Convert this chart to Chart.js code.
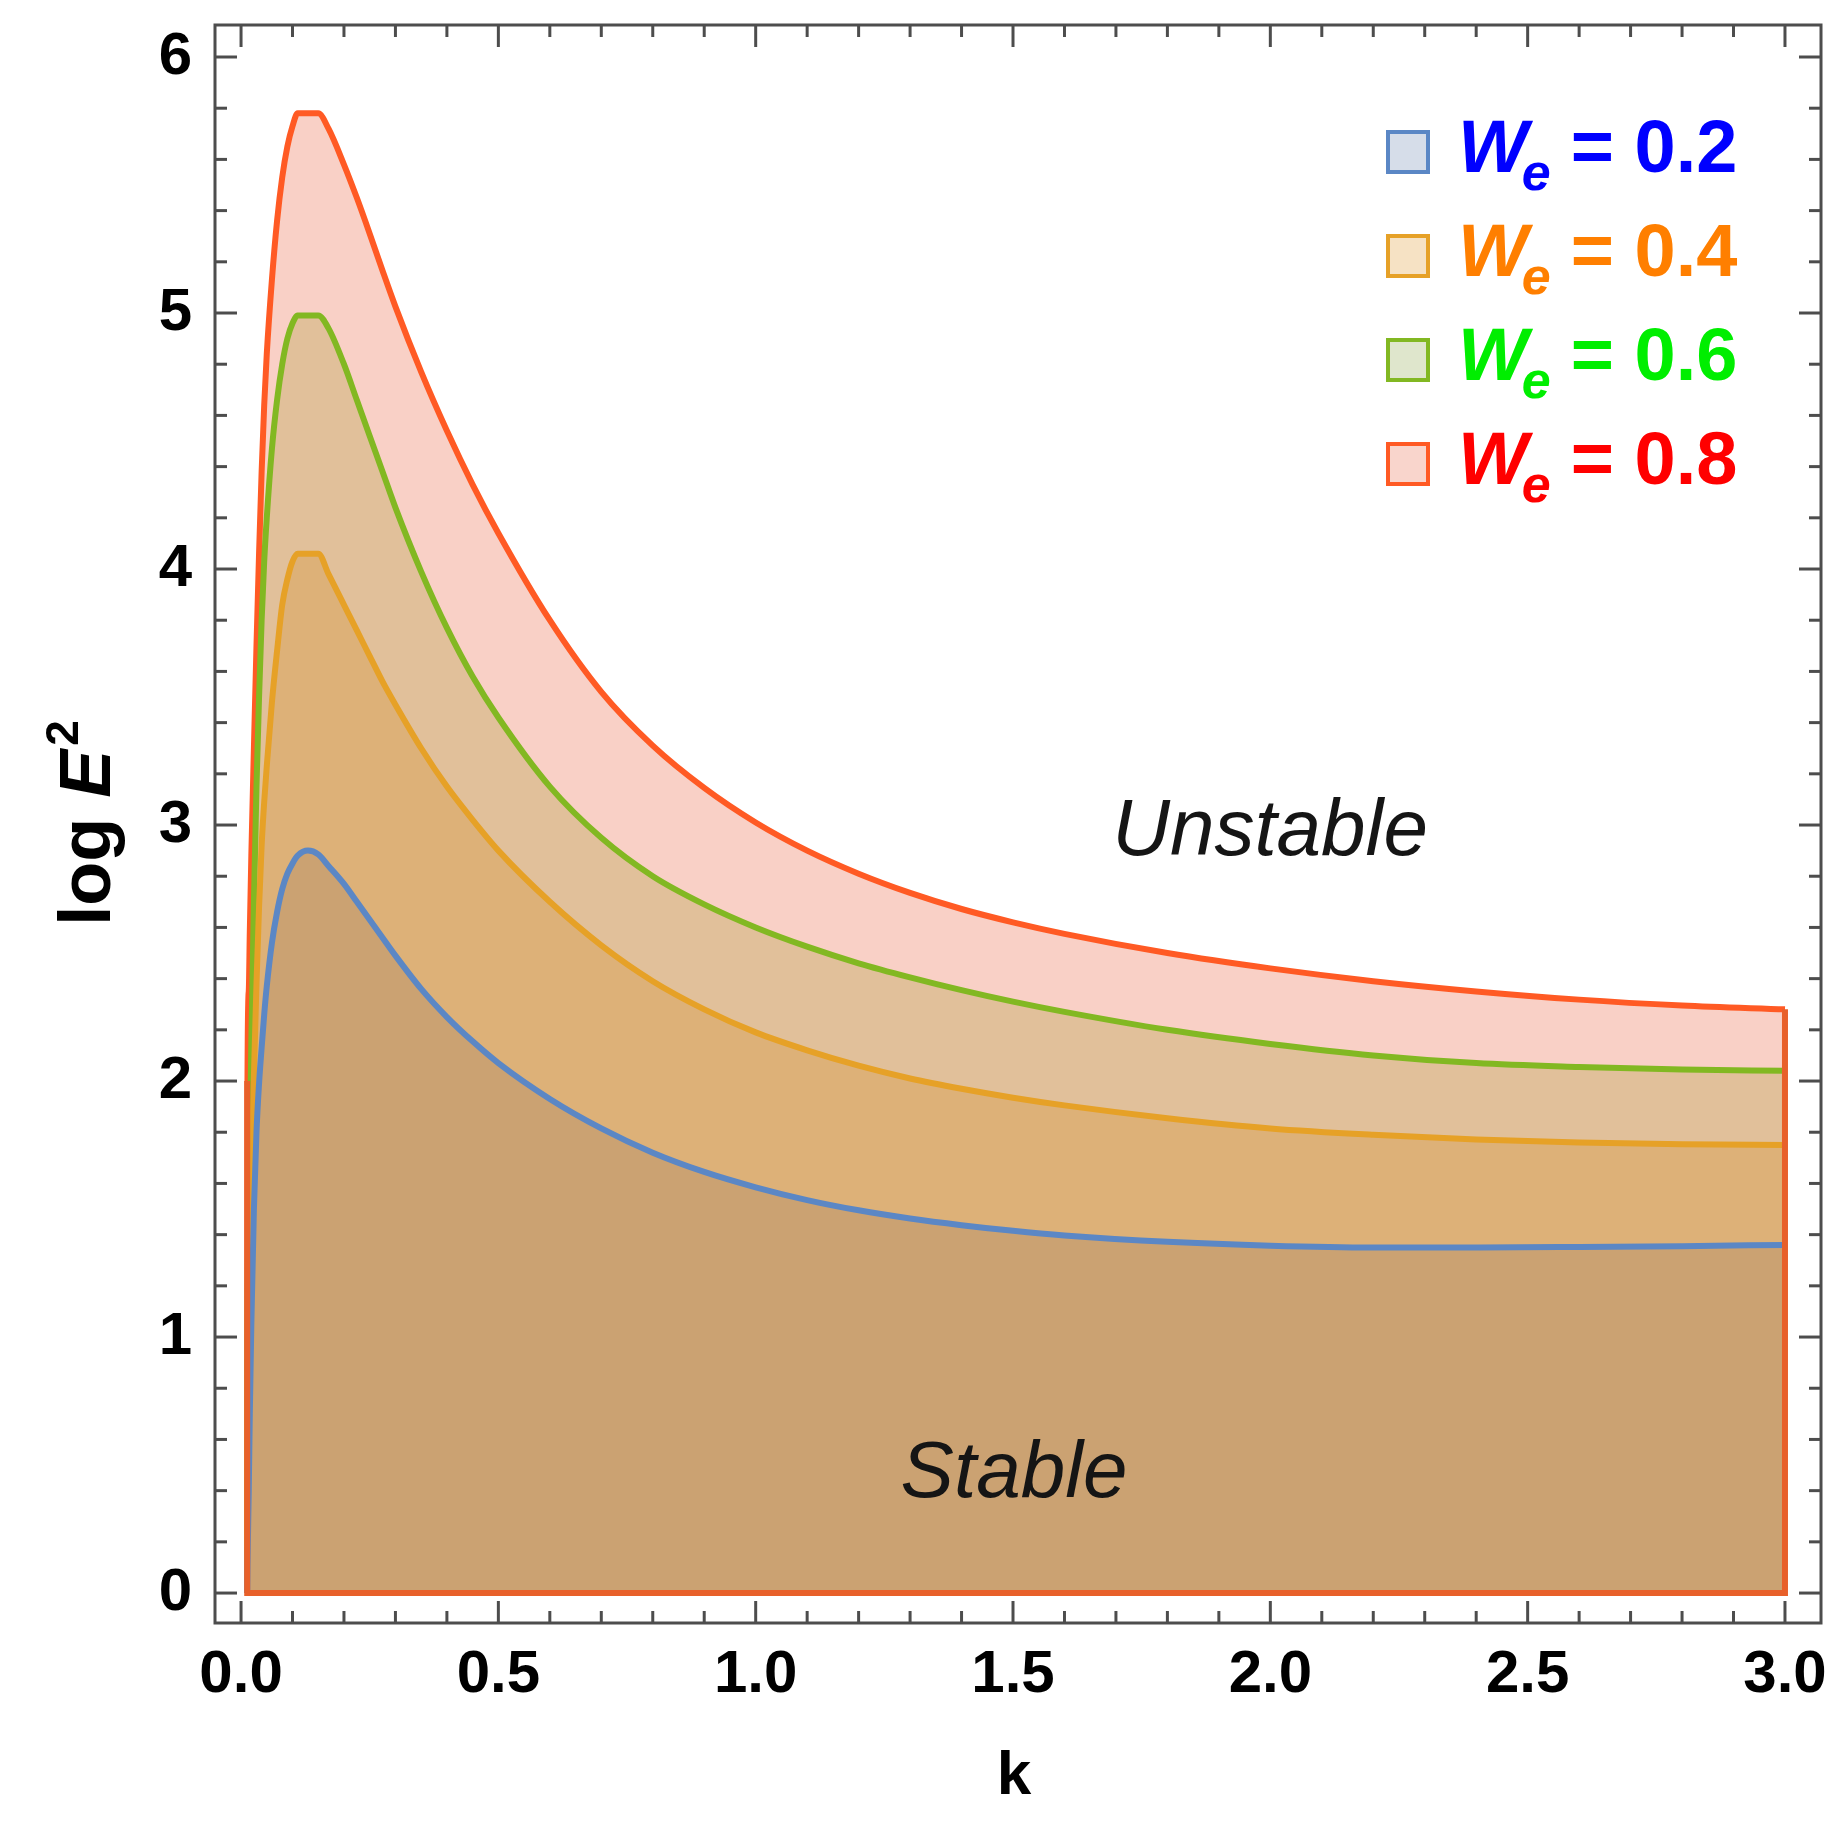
<!DOCTYPE html>
<html>
<head>
<meta charset="utf-8">
<script src="https://cdn.jsdelivr.net/npm/chart.js@4.4.1/dist/chart.umd.min.js"></script>
<style>
  html, body { margin: 0; padding: 0; background: #fff; }
  #wrap { width: 1843px; height: 1827px; position: relative; }
</style>
</head>
<body>
<div id="wrap"><canvas id="chart"></canvas></div>
<script>
// wave number k (shared by all curves)
const kValues = [0.012, 0.0125, 0.015, 0.017, 0.02, 0.025, 0.03, 0.035, 0.04, 0.045,
  0.05, 0.06, 0.07, 0.08, 0.09, 0.10, 0.11, 0.13, 0.15, 0.17,
  0.20, 0.225, 0.25, 0.275, 0.30, 0.35, 0.40, 0.45, 0.50, 0.60,
  0.70, 0.80, 0.90, 1.0, 1.1, 1.2, 1.3, 1.4, 1.5, 1.6,
  1.8, 2.0, 2.2, 2.4, 2.6, 2.8, 3.0];

// log E^2 for each We
const logE2_02 = [0, 0.1, 0.4, 0.7, 1.05, 1.5, 1.8, 1.99, 2.13, 2.26,
  2.37, 2.54, 2.66, 2.75, 2.81, 2.85, 2.88, 2.90, 2.885, 2.84,
  2.77, 2.70, 2.63, 2.56, 2.49, 2.36, 2.25, 2.155, 2.07, 1.93,
  1.815, 1.72, 1.645, 1.585, 1.535, 1.495, 1.463, 1.437, 1.415, 1.397,
  1.372, 1.357, 1.35, 1.35, 1.352, 1.355, 1.36];
const logE2_04 = [0, 0.6, 1.0, 1.3, 1.62, 2.02, 2.38, 2.68, 2.92, 3.09,
  3.23, 3.48, 3.68, 3.86, 3.96, 4.03, 4.06, 4.06, 4.06, 3.98,
  3.86, 3.76, 3.66, 3.56, 3.47, 3.30, 3.15, 3.02, 2.90, 2.70,
  2.53, 2.39, 2.28, 2.19, 2.12, 2.06, 2.01, 1.97, 1.935, 1.905,
  1.855, 1.815, 1.79, 1.772, 1.76, 1.753, 1.75];
const logE2_06 = [0, 1.0, 1.45, 1.75, 2.15, 2.7, 3.15, 3.5, 3.8, 4.03,
  4.2, 4.47, 4.66, 4.80, 4.90, 4.96, 4.99, 4.99, 4.99, 4.94,
  4.80, 4.66, 4.52, 4.38, 4.24, 3.99, 3.77, 3.58, 3.42, 3.15,
  2.95, 2.80, 2.69, 2.60, 2.525, 2.46, 2.405, 2.355, 2.31, 2.27,
  2.20, 2.145, 2.10, 2.07, 2.055, 2.045, 2.04];
const logE2_08 = [0, 2.0, 2.35, 2.58, 2.88, 3.3, 3.7, 4.06, 4.38, 4.64,
  4.84, 5.13, 5.36, 5.53, 5.65, 5.73, 5.78, 5.78, 5.78, 5.72,
  5.58, 5.45, 5.31, 5.165, 5.025, 4.77, 4.54, 4.33, 4.14, 3.80,
  3.52, 3.31, 3.145, 3.01, 2.90, 2.81, 2.735, 2.672, 2.62, 2.575,
  2.50, 2.44, 2.39, 2.35, 2.318, 2.295, 2.28];

const weLabels = ['0.2', '0.4', '0.6', '0.8'];
const xTicks = [0, 0.5, 1.0, 1.5, 2.0, 2.5, 3.0];
const yTicks = [0, 1, 2, 3, 4, 5, 6];

const lineColors = ['#5b87c5', '#e6a127', '#82b822', '#ff5a24'];
const fillColors = ['#cba272', '#ddb178', '#e1c09a', '#f9d0c6'];
const textColors = ['#0000ff', '#ff7f00', '#00ee00', '#ff0000'];
const boxFills = ['#d6dde9', '#f6e2c4', '#dfe6cc', '#f9d5cc'];

const FONT = '"Liberation Sans", Arial, sans-serif';

function toPoints(ys) {
    return kValues.map((k, i) => ({ x: k, y: ys[i] }));
}

const series = [logE2_02, logE2_04, logE2_06, logE2_08];
const last = kValues.length - 1;

const datasets = series.map((ys, i) => ({
    label: 'We = ' + weLabels[i],
    data: toPoints(ys),
    showLine: true,
    borderColor: lineColors[i],
    backgroundColor: fillColors[i],
    borderWidth: 6,
    pointRadius: 0,
    fill: 'origin',
    cubicInterpolationMode: 'monotone',
    borderJoinStyle: 'round'
}));

// outer edge of the We = 0.8 region (right side, bottom and left foot)
datasets.push({
    label: 'edge',
    data: [
        { x: kValues[last], y: logE2_08[last] },
        { x: kValues[last], y: 0 },
        { x: kValues[0], y: 0 },
        { x: kValues[0], y: logE2_08[1] }
    ],
    showLine: true,
    borderColor: '#e8602a',
    borderWidth: 6,
    pointRadius: 0,
    fill: false,
    order: -1
});

// frame, inward ticks, legend and annotations
const framePlugin = {
    id: 'frame',
    afterDraw(chart) {
        const { ctx, chartArea: a, scales: { x, y } } = chart;
        const line = (x1, y1, x2, y2) => {
            ctx.beginPath();
            ctx.moveTo(x1, y1);
            ctx.lineTo(x2, y2);
            ctx.stroke();
        };
        ctx.save();
        ctx.strokeStyle = '#4d4d4d';
        ctx.lineWidth = 3;
        ctx.strokeRect(a.left, a.top, a.right - a.left, a.bottom - a.top);

        // x ticks, 4 minor ticks between majors
        xTicks.forEach((v, i) => {
            const n = i < xTicks.length - 1 ? 5 : 1;
            const step = i < xTicks.length - 1 ? (xTicks[i + 1] - v) / 5 : 0;
            for (let j = 0; j < n; j++) {
                const px = x.getPixelForValue(v + j * step);
                const len = j === 0 ? 22 : 12;
                line(px, a.bottom, px, a.bottom - len);
                line(px, a.top, px, a.top + len);
            }
        });
        yTicks.forEach((v, i) => {
            const n = i < yTicks.length - 1 ? 5 : 1;
            const step = i < yTicks.length - 1 ? (yTicks[i + 1] - v) / 5 : 0;
            for (let j = 0; j < n; j++) {
                const py = y.getPixelForValue(v + j * step);
                const len = j === 0 ? 22 : 12;
                line(a.left, py, a.left + len, py);
                line(a.right, py, a.right - len, py);
            }
        });

        // legend
        weLabels.forEach((lab, i) => {
            const base = 172 + i * 104;
            ctx.fillStyle = boxFills[i];
            ctx.strokeStyle = lineColors[i];
            ctx.lineWidth = 4;
            ctx.fillRect(1388, base - 40, 40, 40);
            ctx.strokeRect(1388, base - 40, 40, 40);

            ctx.fillStyle = textColors[i];
            ctx.textAlign = 'left';
            ctx.textBaseline = 'alphabetic';
            ctx.font = 'italic bold 74px ' + FONT;
            ctx.fillText('W', 1458, base);
            let cx = 1458 + ctx.measureText('W').width - 6;
            ctx.font = 'italic bold 52px ' + FONT;
            ctx.fillText('e', cx, base + 18);
            cx += ctx.measureText('e').width + 20;
            ctx.font = 'bold 74px ' + FONT;
            ctx.fillText('= ' + lab, cx, base);
        });

        // region labels
        ctx.fillStyle = '#151515';
        ctx.textAlign = 'center';
        ctx.font = 'italic 80px ' + FONT;
        ctx.fillText('Unstable', 1270, 855);
        ctx.fillText('Stable', 1014, 1497);

        // axis titles
        ctx.fillStyle = '#000';
        ctx.font = 'bold 62px ' + FONT;
        ctx.fillText('k', (a.left + a.right) / 2 - 4, 1794);

        ctx.translate(110, 823);
        ctx.rotate(-Math.PI / 2);
        ctx.textAlign = 'left';
        ctx.font = 'bold 72px ' + FONT;
        const w1 = ctx.measureText('log ').width;
        ctx.font = 'italic bold 72px ' + FONT;
        const w2 = ctx.measureText('E').width;
        ctx.font = 'bold 46px ' + FONT;
        const w3 = ctx.measureText('2').width;
        let sx = -(w1 + w2 + w3 + 4) / 2;
        ctx.font = 'bold 72px ' + FONT;
        ctx.fillText('log ', sx, 0);
        sx += w1;
        ctx.font = 'italic bold 72px ' + FONT;
        ctx.fillText('E', sx, 0);
        sx += w2 + 4;
        ctx.font = 'bold 46px ' + FONT;
        ctx.fillText('2', sx, -32);
        ctx.restore();
    }
};

const ctx = document.getElementById('chart').getContext('2d');
new Chart(ctx, {
    type: 'scatter',
    data: { datasets: datasets },
    options: {
        responsive: true,
        maintainAspectRatio: false,
        devicePixelRatio: 1,
        animation: false,
        layout: { padding: { top: 25, right: 22, left: 0, bottom: 0 } },
        plugins: {
            legend: { display: false },
            tooltip: { enabled: false }
        },
        scales: {
            x: {
                type: 'linear',
                min: -0.0506,
                max: 3.070,
                grid: { display: false, drawTicks: false },
                border: { display: false },
                afterBuildTicks: axis => { axis.ticks = xTicks.map(v => ({ value: v })); },
                afterFit: axis => { axis.height = 204; axis.paddingLeft = 0; axis.paddingRight = 0; },
                ticks: {
                    padding: 16,
                    color: '#000',
                    font: { family: FONT, size: 60, weight: 'bold' },
                    maxRotation: 0,
                    callback: v => Number(v).toFixed(1)
                }
            },
            y: {
                type: 'linear',
                min: -0.117,
                max: 6.125,
                grid: { display: false, drawTicks: false },
                border: { display: false },
                afterBuildTicks: axis => { axis.ticks = yTicks.map(v => ({ value: v })); },
                afterFit: axis => { axis.width = 215; axis.paddingTop = 0; axis.paddingBottom = 0; },
                ticks: {
                    padding: 23,
                    color: '#000',
                    font: { family: FONT, size: 60, weight: 'bold' },
                    callback: v => String(v)
                }
            }
        }
    },
    plugins: [framePlugin]
});
</script>
</body>
</html>
